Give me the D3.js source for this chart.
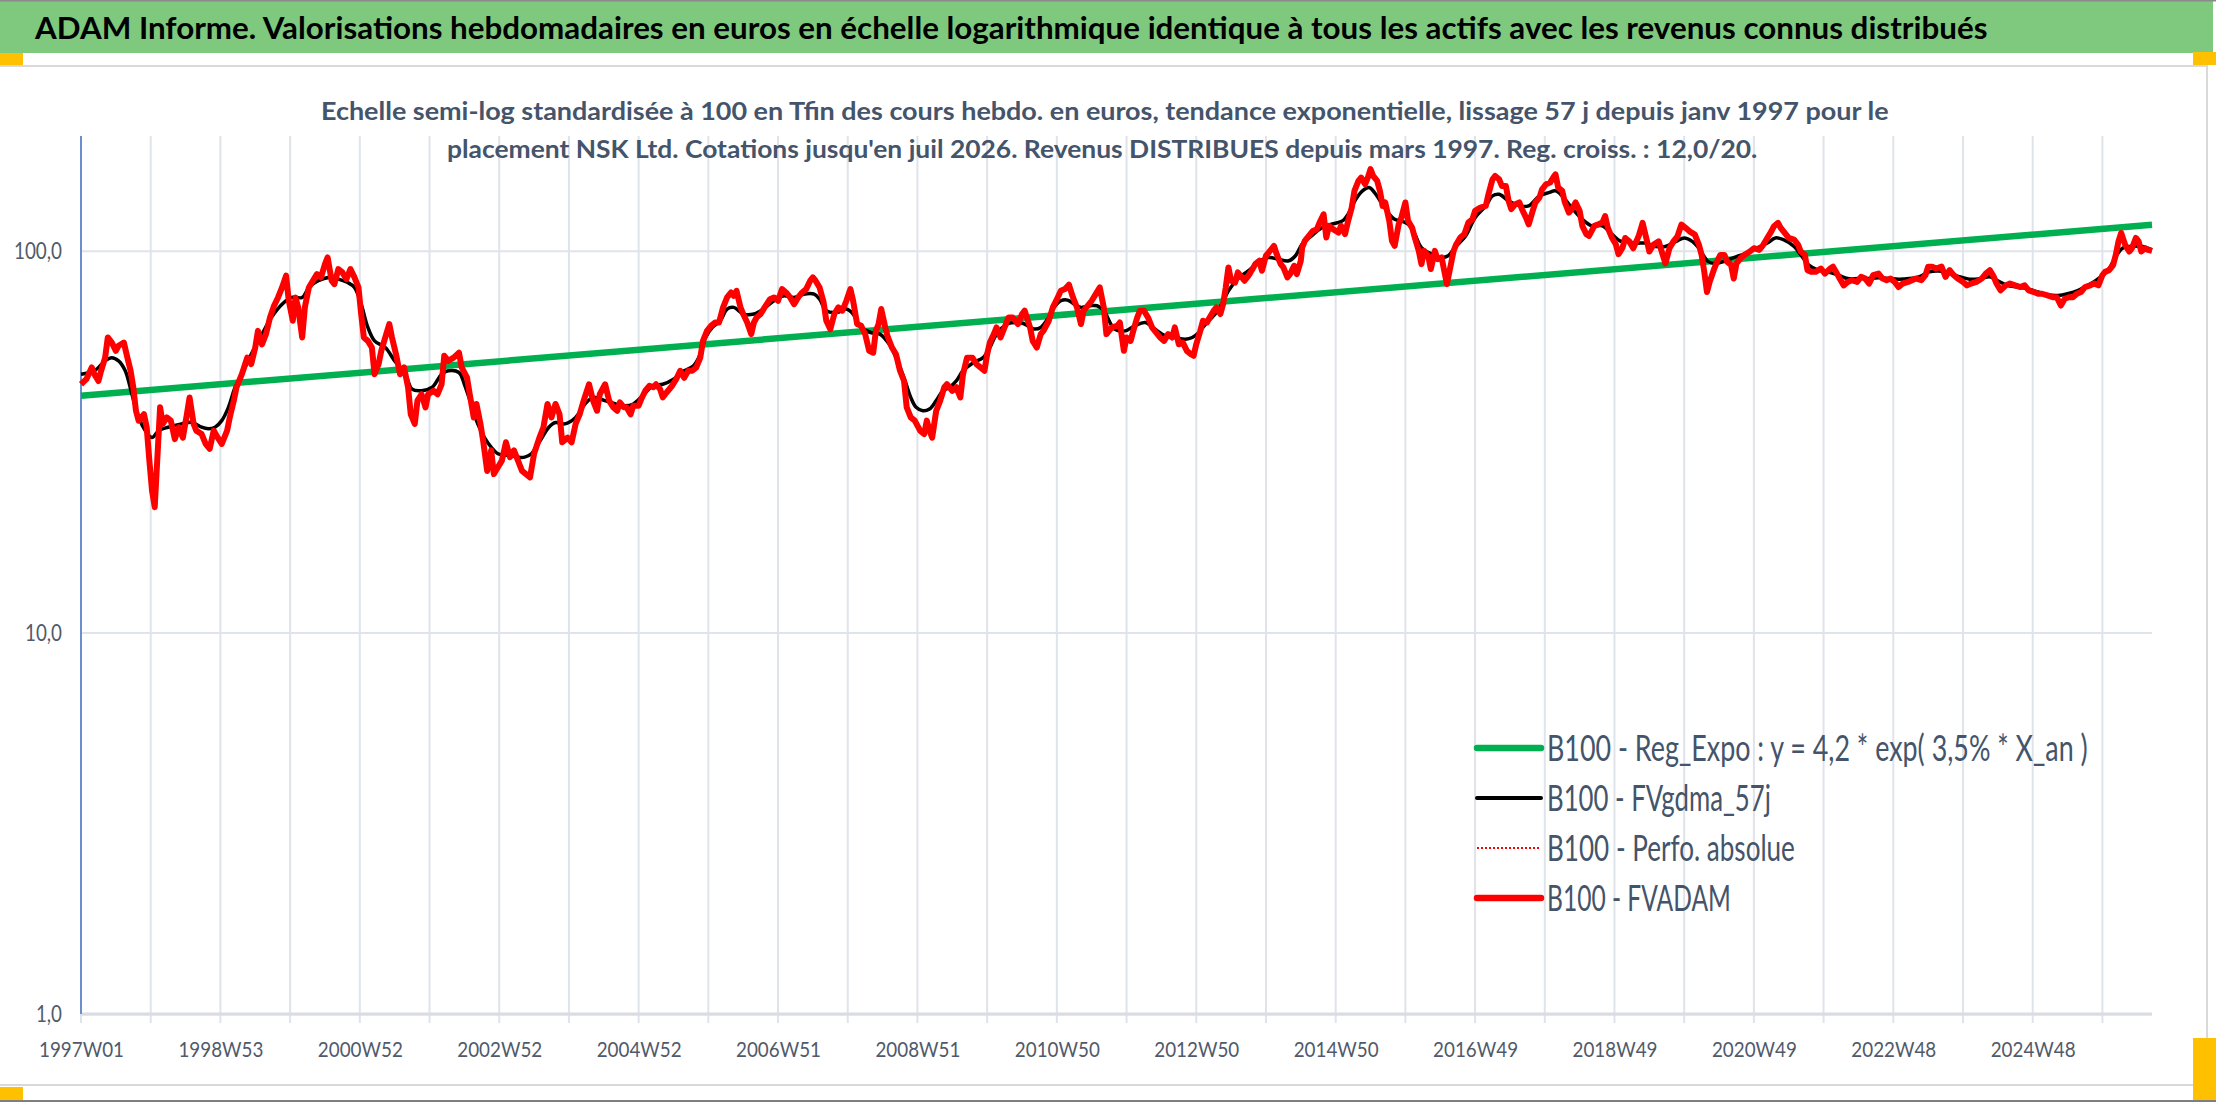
<!DOCTYPE html>
<html>
<head>
<meta charset="utf-8">
<script src="https://cdn.jsdelivr.net/npm/d3@7"></script>
<style>
	body { margin: 0; background: #fff; }
	svg text { font-family: Lato, "Open Sans", sans-serif; }
</style>
</head>
<body>
<svg id="chart"></svg>
<script>
// week index counted from 1997W01
const labelWeeks = [0, 104, 208, 312, 416, 520, 624, 728, 832, 936, 1040, 1144, 1248, 1352, 1456];
const weekLabels = ["1997W01", "1998W53", "2000W52", "2002W52", "2004W52", "2006W51", "2008W51",
	"2010W50", "2012W50", "2014W50", "2016W49", "2018W49", "2020W49", "2022W48", "2024W48"];
const gridWeeks = d3.range(0, 1545, 52);
const yTicks = [1, 10, 100];

// B100 - Reg_Expo (straight in semi-log, end points)
const regWeeks = [0, 1545];
const regValues = [41.7, 117.0];

// B100 - FVgdma_57j
const gdmaWeeks = [0, 10, 18, 23, 28, 33, 38, 43, 48, 53, 58, 65, 75, 83, 90, 95, 100, 105, 110, 115, 120, 127, 135, 142, 150, 157, 165, 170, 177, 185, 192, 199, 204, 209, 214, 219, 227, 234, 242, 247, 254, 262, 269, 274, 282, 286, 291, 296, 301, 306, 311, 319, 326, 331, 336, 344, 349, 354, 361, 369, 376, 382, 387, 395, 405, 412, 420, 427, 434, 442, 450, 457, 462, 466, 471, 477, 482, 487, 494, 502, 509, 517, 524, 532, 539, 547, 551, 556, 564, 571, 576, 581, 589, 596, 603, 608, 614, 619, 623, 628, 633, 638, 643, 648, 653, 658, 666, 673, 678, 683, 691, 698, 703, 711, 716, 721, 726, 731, 736, 741, 746, 753, 758, 763, 771, 779, 786, 794, 801, 809, 816, 824, 829, 834, 839, 846, 851, 856, 864, 871, 878, 886, 893, 901, 906, 911, 918, 926, 933, 941, 946, 951, 956, 961, 965, 970, 975, 980, 985, 990, 995, 1000, 1008, 1015, 1020, 1025, 1033, 1040, 1048, 1053, 1058, 1065, 1073, 1080, 1088, 1095, 1100, 1105, 1112, 1120, 1127, 1135, 1142, 1148, 1152, 1160, 1167, 1175, 1182, 1190, 1196, 1202, 1207, 1214, 1220, 1228, 1235, 1243, 1250, 1258, 1264, 1270, 1278, 1283, 1289, 1296, 1303, 1311, 1318, 1326, 1333, 1341, 1349, 1356, 1364, 1371, 1379, 1386, 1394, 1402, 1409, 1417, 1424, 1429, 1437, 1444, 1452, 1460, 1467, 1475, 1482, 1490, 1497, 1505, 1513, 1518, 1523, 1530, 1538, 1545];
const gdmaValues = [47.5, 48.5, 51.5, 52.5, 51.5, 48.5, 42.1, 36.6, 33.8, 32.4, 33.8, 34.5, 35.2, 35.5, 34.5, 34.2, 34.5, 35.9, 38.9, 43.9, 47.5, 53.6, 60.5, 66.9, 72.5, 75.5, 75.5, 80.2, 83.5, 85.2, 84.3, 82.6, 80.2, 72.5, 63.0, 58.1, 55.8, 51.5, 47.5, 43.4, 43.0, 43.9, 47.5, 48.5, 48.0, 44.7, 39.7, 35.2, 32.4, 30.6, 29.4, 29.1, 28.8, 28.8, 29.4, 32.4, 34.5, 35.5, 35.2, 36.6, 39.7, 41.3, 40.9, 40.1, 39.3, 39.7, 42.1, 44.3, 44.7, 46.1, 48.5, 50.0, 53.6, 59.3, 63.0, 65.6, 70.4, 71.1, 68.3, 68.3, 70.4, 74.0, 76.2, 75.5, 77.0, 77.0, 74.7, 69.7, 69.0, 70.4, 68.3, 63.6, 61.1, 60.5, 56.9, 52.5, 46.5, 41.3, 38.9, 38.1, 38.5, 40.5, 43.0, 43.9, 45.6, 48.5, 51.0, 52.5, 55.8, 60.5, 64.3, 64.9, 64.5, 62.4, 63.0, 66.2, 71.1, 74.0, 74.3, 72.5, 71.1, 71.8, 71.8, 69.7, 62.4, 61.7, 63.6, 64.9, 62.4, 59.9, 59.3, 58.7, 59.3, 61.1, 64.3, 68.3, 72.5, 78.6, 85.2, 88.7, 93.3, 96.1, 95.1, 94.2, 97.1, 104.1, 109.5, 115.1, 117.4, 119.8, 126.0, 136.5, 143.6, 146.5, 142.1, 133.9, 126.0, 121.0, 119.8, 117.4, 110.6, 102.0, 98.0, 96.1, 97.1, 102.0, 109.5, 122.2, 131.2, 139.3, 140.7, 135.2, 131.2, 131.2, 139.3, 142.1, 143.6, 139.3, 129.9, 121.0, 116.3, 116.3, 110.6, 106.2, 105.9, 104.8, 104.8, 102.7, 102.7, 105.9, 108.1, 105.9, 101.6, 93.7, 92.7, 94.6, 96.6, 98.6, 101.6, 104.8, 108.1, 107.0, 102.7, 97.6, 91.8, 89.0, 88.1, 86.4, 84.6, 84.6, 84.6, 85.0, 84.6, 84.3, 84.6, 85.5, 88.1, 88.5, 87.2, 85.5, 84.3, 84.6, 85.5, 83.8, 81.2, 80.4, 79.6, 78.0, 76.7, 76.4, 77.2, 78.8, 81.2, 84.6, 89.9, 96.6, 101.6, 102.7, 102.7, 100.6];

// B100 - FVADAM
const adamWeeks = [0, 4, 8, 10, 13, 15, 18, 20, 23, 26, 28, 32, 34, 37, 39, 41, 43, 47, 49, 51, 53, 55, 57, 59, 61, 64, 67, 70, 73, 76, 79, 81, 84, 86, 90, 93, 96, 99, 102, 105, 109, 111, 114, 116, 120, 124, 127, 130, 132, 135, 138, 141, 144, 147, 150, 153, 155, 158, 160, 162, 165, 167, 170, 173, 176, 179, 182, 184, 187, 189, 192, 195, 198, 201, 204, 207, 209, 211, 214, 217, 219, 222, 224, 227, 230, 232, 235, 238, 241, 244, 246, 249, 251, 254, 257, 259, 263, 266, 269, 271, 274, 278, 282, 284, 288, 290, 293, 295, 298, 300, 303, 306, 308, 311, 314, 317, 320, 323, 326, 329, 332, 335, 338, 342, 345, 348, 351, 354, 357, 359, 363, 366, 369, 372, 375, 379,
	382, 385, 387, 391, 394, 397, 400, 402, 405, 407, 410, 412, 416, 418, 421, 424, 427, 429, 432, 434, 437, 441, 444, 447, 450, 453, 456, 459, 462, 464, 467, 470, 473, 476, 479, 482, 485, 487, 489, 492, 494, 497, 500, 502, 504, 507, 510, 514, 517, 520, 523, 526, 529, 532, 535, 538, 541, 544, 546, 548, 551, 554, 556, 559, 562, 565, 568, 571, 574, 576, 579, 582, 585, 588, 591, 593, 595, 597, 600, 602, 605, 608, 611, 614, 616, 619, 622, 626, 629, 631, 633, 635, 638, 641, 644, 646, 650, 653, 656, 658, 661, 665, 668, 671, 674, 676, 678, 681, 683, 686, 689, 692, 695, 699, 702, 704, 708, 710, 713, 716, 718, 722, 725, 728, 731, 734, 737, 740, 743, 746, 748, 752, 754, 757, 760, 763, 765,
	769, 773, 775, 778, 780, 783, 785, 788, 790, 793, 796, 799, 802, 805, 808, 811, 814, 816, 819, 822, 825, 828, 830, 832, 835, 837, 840, 842, 845, 847, 850, 852, 854, 856, 858, 861, 863, 866, 868, 871, 874, 876, 879, 881, 884, 887, 890, 892, 895, 897, 900, 902, 905, 907, 910, 911, 913, 916, 919, 922, 924, 927, 929, 931, 934, 938, 940, 943, 945, 948, 950, 953, 955, 958, 960, 962, 964, 967, 969, 971, 973, 976, 978, 980, 983, 985, 988, 990, 993, 995, 998, 1000, 1002, 1005, 1007, 1010, 1012, 1015, 1017, 1019, 1021, 1024, 1026, 1029, 1032, 1035, 1038, 1040, 1044, 1048, 1050, 1053, 1055, 1058, 1060, 1063, 1065, 1067, 1070, 1073, 1075, 1078, 1080, 1083, 1085, 1088, 1090, 1093, 1096, 1099, 1100, 1102, 1105, 1107, 1110, 1113, 1115, 1118, 1120, 1123, 1125, 1129, 1132, 1135, 1137, 1139, 1142, 1145, 1147, 1150,
	1152, 1155, 1158, 1162, 1165, 1168, 1170, 1173, 1177, 1180, 1182, 1185, 1188, 1191, 1194, 1197, 1200, 1204, 1207, 1209, 1211, 1213, 1215, 1218, 1221, 1223, 1226, 1228, 1231, 1233, 1235, 1238, 1241, 1245, 1248, 1252, 1255, 1258, 1261, 1263, 1266, 1268, 1271, 1274, 1278, 1281, 1283, 1286, 1288, 1291, 1294, 1298, 1301, 1305, 1307, 1310, 1312, 1315, 1318, 1321, 1325, 1328, 1331, 1334, 1337, 1341, 1344, 1347, 1350, 1353, 1356, 1359, 1363, 1366, 1369, 1373, 1376, 1378, 1381, 1384, 1388, 1391, 1394, 1397, 1400, 1404, 1407, 1410, 1414, 1418, 1421, 1424, 1427, 1429, 1432, 1436, 1439, 1443, 1447, 1450, 1453, 1457, 1460, 1463, 1467, 1471, 1474, 1477, 1480, 1483, 1486, 1489, 1492, 1495, 1499, 1502, 1505, 1508, 1510, 1513, 1516, 1518, 1520, 1522, 1525, 1528, 1530, 1533, 1535, 1537, 1540, 1542, 1545];
const adamValues = [44.7, 46.1, 49.5, 47.5, 45.6, 48.5, 52.5, 59.3, 57.5, 54.7, 56.4, 57.5, 53.6, 48.5, 43.9, 38.1, 35.9, 37.3, 34.5, 28.2, 23.5, 21.3, 28.8, 38.9, 35.2, 36.6, 35.9, 32.1, 34.5, 32.4, 37.3, 41.3, 35.2, 33.8, 33.1, 31.2, 30.3, 33.8, 32.4, 31.2, 33.8, 36.6, 40.5, 43.9, 47.5, 52.5, 50.5, 55.8, 61.7, 56.9, 60.5, 66.9, 71.8, 75.5, 80.2, 86.1, 74.0, 65.6, 75.5, 71.1, 59.3, 71.1, 80.2, 83.5, 86.9, 85.2, 92.3, 96.1, 83.5, 81.8, 89.6, 87.8, 84.3, 89.6, 85.2, 80.2, 68.3, 59.3, 58.1, 55.8, 47.5, 50.5, 54.7, 59.3, 64.3, 59.3, 53.6, 47.5, 49.5, 43.9, 37.3, 35.2, 40.5, 42.1, 38.9, 42.1, 43.0, 42.1, 44.7, 53.1, 51.5, 52.5, 54.1, 49.5, 46.5, 42.1, 36.6, 39.7, 35.2, 31.8, 26.5, 30.0, 26.0, 27.1, 28.2, 31.5, 28.8, 30.0, 28.2, 26.5, 26.0, 25.5, 29.4, 32.4, 34.5, 39.7, 36.6, 39.7, 37.3, 31.5, 32.4, 31.5, 35.2, 37.3, 40.5, 44.7,
	40.5, 38.1, 42.1, 44.7, 40.5, 38.9, 38.1, 40.1, 38.9, 38.9, 37.3, 39.3, 39.3, 40.9, 43.0, 44.3, 43.9, 44.7, 43.4, 41.3, 42.6, 44.3, 46.1, 48.5, 46.5, 48.5, 48.5, 49.5, 52.5, 58.1, 61.7, 63.6, 64.9, 64.9, 71.1, 75.5, 77.8, 76.2, 78.6, 71.1, 68.3, 64.9, 60.5, 64.9, 66.9, 68.3, 71.1, 74.7, 75.5, 74.0, 79.4, 77.8, 75.5, 72.5, 75.5, 77.8, 79.4, 83.5, 85.2, 83.5, 80.2, 73.3, 65.6, 62.3, 68.3, 71.1, 69.7, 74.0, 79.4, 74.0, 64.3, 63.6, 60.5, 54.7, 54.1, 61.7, 64.3, 70.4, 63.0, 59.3, 55.8, 53.6, 48.5, 45.6, 38.9, 36.6, 35.9, 33.8, 33.1, 35.9, 33.8, 32.4, 38.1, 40.5, 43.9, 44.7, 43.0, 43.9, 41.3, 47.5, 52.5, 52.5, 50.5, 49.5, 48.5, 53.6, 57.5, 60.5, 63.0, 59.3, 63.0, 66.9, 66.9, 64.3, 68.3, 69.7, 63.0, 58.1, 55.8, 60.5, 61.7, 65.6, 71.1, 74.7, 78.6, 79.4, 81.5, 75.5, 71.1, 64.3, 69.7, 72.5, 74.0, 77.0, 80.2, 71.1, 60.5,
	63.0, 63.6, 64.9, 54.7, 59.3, 58.1, 61.7, 66.9, 69.7, 69.7, 66.9, 63.0, 61.1, 59.3, 58.1, 60.5, 59.3, 63.0, 56.9, 57.5, 54.7, 53.6, 53.1, 56.9, 61.7, 65.6, 64.9, 66.9, 69.7, 71.1, 68.3, 72.5, 80.2, 90.5, 83.5, 82.6, 87.8, 85.2, 83.5, 86.1, 89.6, 92.3, 94.2, 88.7, 97.1, 100.0, 103.0, 98.0, 92.3, 90.5, 85.2, 86.9, 91.4, 86.9, 94.2, 102.0, 106.2, 109.5, 112.8, 114.0, 118.6, 124.7, 108.4, 116.3, 114.0, 111.7, 116.3, 110.6, 118.6, 129.9, 143.6, 152.5, 155.6, 149.5, 155.6, 163.7, 157.1, 152.5, 143.6, 131.2, 133.9, 119.8, 106.2, 103.0, 117.4, 122.2, 133.9, 119.8, 115.1, 108.4, 100.0, 92.3, 100.0, 97.1, 89.6, 100.0, 95.1, 96.1, 88.7, 81.8, 88.7, 100.0, 104.1, 108.4, 110.6, 118.6, 121.0, 127.3, 129.9, 131.2, 140.7, 154.0, 157.1, 154.0, 147.9, 147.9, 135.2, 128.6, 132.5, 133.9, 128.6, 122.2, 117.4, 127.3, 133.9, 137.9, 145.0, 149.5, 151.0, 157.1, 158.7, 146.5, 143.6, 133.9, 126.0, 129.9, 133.9, 127.3, 116.3, 110.6, 109.5, 116.3, 117.4, 118.6, 123.4, 115.1, 108.4, 104.1, 98.0, 102.0,
	108.1, 105.9, 101.6, 109.2, 118.4, 107.0, 99.6, 103.7, 105.9, 97.6, 92.7, 101.6, 105.9, 109.2, 117.2, 114.9, 112.5, 110.3, 103.7, 97.6, 88.1, 78.0, 82.9, 89.0, 94.6, 97.6, 97.6, 93.7, 91.8, 84.6, 92.7, 95.6, 97.6, 99.6, 101.6, 100.6, 103.7, 108.1, 112.5, 116.0, 118.4, 114.9, 111.4, 108.1, 107.0, 103.7, 99.6, 97.6, 89.0, 88.1, 88.1, 89.9, 87.2, 89.9, 90.9, 87.2, 84.6, 81.2, 82.9, 83.8, 82.9, 85.5, 84.6, 82.1, 86.4, 87.2, 84.6, 83.8, 84.6, 82.9, 80.4, 82.1, 82.9, 83.8, 84.6, 83.8, 86.4, 90.9, 90.9, 89.9, 90.9, 85.5, 89.0, 86.4, 84.6, 82.9, 81.2, 82.1, 82.9, 84.6, 87.2, 89.0, 85.5, 82.1, 78.8, 81.2, 82.1, 81.2, 80.4, 81.2, 78.8, 78.0, 77.2, 77.2, 76.4, 75.6, 75.6, 71.9, 74.9, 75.6, 75.6, 77.2, 78.0, 80.4, 81.2, 82.1, 81.2, 86.4, 88.1, 89.0, 91.8, 97.6, 105.9, 111.4, 103.7, 99.6, 101.6, 108.1, 105.9, 99.6, 101.6, 100.6, 100.0];

const titleText = "ADAM Informe. Valorisations hebdomadaires en euros en échelle logarithmique identique à tous les actifs avec les revenus connus distribués";
const subtitleLines = [
	"Echelle semi-log standardisée à 100 en Tfin des cours hebdo. en euros, tendance exponentielle, lissage 57 j depuis janv 1997 pour le",
	"placement NSK Ltd. Cotations jusqu'en juil 2026. Revenus DISTRIBUES depuis mars 1997. Reg. croiss. : 12,0/20."
];
const legendLabels = [
	"B100 - Reg_Expo : y = 4,2 * exp( 3,5% *  X_an )",
	"B100 - FVgdma_57j",
	"B100 - Perfo. absolue",
	"B100 - FVADAM"
];

const width = 2216;
const height = 1102;
const plot = { left: 81, right: 2152, top: 136, bottom: 1014 };

// the original text is tall and narrow: squeeze each string to its measured width
function squeeze(text, x, y, w) {
	text.attr("x", 0).attr("y", 0);
	const natural = text.node().getComputedTextLength();
	text.attr("transform", `translate(${x},${y}) scale(${w / natural},1)`);
}

const svg = d3.select("#chart")
	.attr("width", width)
	.attr("height", height);

// frame, banner and the little orange handles
svg.append("rect").attr("width", width).attr("height", height).attr("fill", "#fff");
svg.append("rect")
	.attr("x", -2).attr("y", 66)
	.attr("width", 2209).attr("height", 1019)
	.attr("fill", "none").attr("stroke", "#d9d9d9").attr("stroke-width", 2);
svg.append("rect")
	.attr("x", 0).attr("y", 1)
	.attr("width", 2213).attr("height", 52)
	.attr("fill", "#7ec97e");
svg.append("line")
	.attr("x1", 0).attr("x2", width).attr("y1", 0.75).attr("y2", 0.75)
	.attr("stroke", "#8a8a8a").attr("stroke-width", 1.5);
svg.append("line")
	.attr("x1", 0).attr("x2", width).attr("y1", 1101).attr("y2", 1101)
	.attr("stroke", "#7f7f7f").attr("stroke-width", 2);

const handles = [[0, 53, 23, 12], [2193, 52, 23, 13], [0, 1087, 23, 13], [2193, 1038, 23, 62]];
svg.selectAll("rect.handle")
	.data(handles)
	.join("rect")
	.attr("class", "handle")
	.attr("x", d => d[0]).attr("y", d => d[1])
	.attr("width", d => d[2]).attr("height", d => d[3])
	.attr("fill", "#ffc000");

const title = svg.append("text")
	.attr("font-size", 30).attr("font-weight", "bold").attr("fill", "#000")
	.text(titleText);
squeeze(title, 35, 39, 1953);

const x = d3.scaleLinear().domain([0, 1545]).range([plot.left, plot.right]);
const y = d3.scaleLog().domain([1, 200]).range([plot.bottom, plot.top]);

const g = svg.append("g");

// vertical grid, running a bit below the axis as tick marks
g.selectAll("line.vgrid")
	.data(gridWeeks)
	.join("line")
	.attr("class", "vgrid")
	.attr("x1", d => x(d)).attr("x2", d => x(d))
	.attr("y1", plot.top).attr("y2", plot.bottom + 9)
	.attr("stroke", "#dfe3ea").attr("stroke-width", 2);

const yAxis = g.append("g")
	.attr("transform", `translate(${plot.left},0)`)
	.call(d3.axisLeft(y)
		.tickValues(yTicks)
		.tickSize(-(plot.right - plot.left))
		.tickPadding(19)
		.tickFormat(d => d3.format(".1f")(d).replace(".", ",")));
yAxis.select(".domain").remove();
yAxis.selectAll(".tick line").attr("stroke", "#dfe3ea").attr("stroke-width", 2);
yAxis.selectAll(".tick text")
	.attr("font-size", 24).attr("fill", "#505a6b")
	.attr("textLength", d => ({ 1: 26, 10: 37, 100: 48 })[d])
	.attr("lengthAdjust", "spacingAndGlyphs");

g.append("line")
	.attr("x1", plot.left).attr("x2", plot.right)
	.attr("y1", plot.bottom).attr("y2", plot.bottom)
	.attr("stroke", "#d9dce2").attr("stroke-width", 3);
g.append("line")
	.attr("x1", plot.left).attr("x2", plot.left)
	.attr("y1", plot.top).attr("y2", plot.bottom)
	.attr("stroke", "#4472c4").attr("stroke-width", 1.5);

const xAxis = g.append("g")
	.attr("transform", `translate(0,${plot.bottom})`)
	.call(d3.axisBottom(x)
		.tickValues(labelWeeks)
		.tickSize(0)
		.tickPadding(27)
		.tickFormat((d, i) => weekLabels[i]));
xAxis.select(".domain").remove();
xAxis.selectAll(".tick text")
	.attr("font-size", 22).attr("fill", "#505a6b")
	.attr("textLength", 85).attr("lengthAdjust", "spacingAndGlyphs");

// subtitle sits over the top of the plot area, as in the original
svg.selectAll("text.subtitle")
	.data(subtitleLines)
	.join("text")
	.attr("class", "subtitle")
	.attr("font-size", 25).attr("font-weight", "bold").attr("fill", "#44546a")
	.text(d => d)
	.each(function (d, i) {
		squeeze(d3.select(this), [321, 447][i], 120 + i * 38, [1568, 1311][i]);
	});

const line = d3.line()
	.x(d => x(d[0]))
	.y(d => y(d[1]));

g.append("path")
	.datum(d3.zip(regWeeks, regValues))
	.attr("d", line)
	.attr("fill", "none").attr("stroke", "#00b050").attr("stroke-width", 6.5);

g.append("path")
	.datum(d3.zip(gdmaWeeks, gdmaValues))
	.attr("d", line.curve(d3.curveCatmullRom.alpha(0.5)))
	.attr("fill", "none").attr("stroke", "#000").attr("stroke-width", 3.5)
	.attr("stroke-linejoin", "round");

g.append("path")
	.datum(d3.zip(adamWeeks, adamValues))
	.attr("d", line.curve(d3.curveLinear))
	.attr("fill", "none").attr("stroke", "#ff0000").attr("stroke-width", 6)
	.attr("stroke-linejoin", "round");

// legend
const legendStyles = [
	{ color: "#00b050", width: 6.5, dash: null },
	{ color: "#000", width: 4, dash: null },
	{ color: "#ff0000", width: 2, dash: "2,2" },
	{ color: "#ff0000", width: 6.5, dash: null }
];
const legendWidths = [541, 224, 248, 184];

const legend = svg.append("g").attr("transform", "translate(1477,748)");
const rows = legend.selectAll("g")
	.data(legendLabels)
	.join("g")
	.attr("transform", (d, i) => `translate(0,${i * 50})`);

rows.append("line")
	.attr("x1", 0).attr("x2", 64)
	.attr("stroke", (d, i) => legendStyles[i].color)
	.attr("stroke-width", (d, i) => legendStyles[i].width)
	.attr("stroke-dasharray", (d, i) => legendStyles[i].dash)
	.attr("stroke-linecap", (d, i) => legendStyles[i].dash ? "butt" : "round");

rows.append("text")
	.attr("dy", "0.36em")
	.attr("font-size", 36).attr("fill", "#44546a")
	.text(d => d)
	.each(function (d, i) {
		squeeze(d3.select(this), 70, 0, legendWidths[i]);
	});
</script>
</body>
</html>
